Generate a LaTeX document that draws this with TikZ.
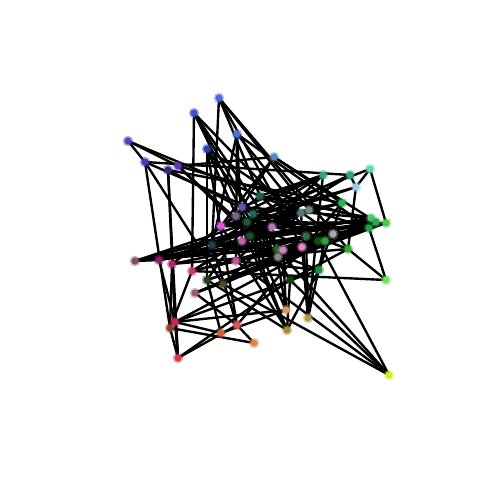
\documentclass[tikz,border=0pt]{standalone}
\usepackage{xcolor}
\usepackage{tikz}
\pgfdeclarelayer{bg}
\pgfsetlayers{bg,main}

\begin{document}
\begin{tikzpicture}[x=0.02cm,y=-0.02cm,
  dot/.style={circle,inner sep=0pt,minimum size=4pt,line width=1.8pt,draw opacity=0.45},
  edge/.style={black,line width=1.35pt}]
\useasboundingbox (0,0) rectangle (500,500);
% vertices: name/x/y/colour
\foreach \n/\x/\y/\c in {1/219/98/4A6AD8,2/194/113/3A50C8,3/237/134/5070D8,4/207/149/2840A8,
  5/128/141/4A48C0,6/145/162/5530B0,7/178/166/6038B8,8/168/170/302A80,9/274/157/5888C0,
  10/323/175/30A878,11/350/175/30A088,12/370/169/60D8A8,13/356/187/98CCE8,14/342/203/30B058,
  15/260/196/1E6048,16/301/213/507878,17/309/210/708888,18/242/207/6858A8,19/236/216/786888,
  20/253/214/206850,21/247/222/1E5838,22/221/226/D858D8,23/272/227/B878B8,24/242/241/B868A8,
  25/250/236/1E5030,26/306/236/2E7040,27/277/249/306030,28/283/250/C888B8,29/278/257/888888,
  30/302/247/E888C8,31/236/261/C05898,32/371/218/48C868,33/376/222/30A850,34/386/223/48C848,
  35/369/228/20A040,36/318/241/105010,37/325/241/30A040,38/333/234/A8A8A8,39/348/249/30A830,
  40/319/270/209030,41/290/280/104010,42/386/280/78E058,43/286/310/D89868,44/308/318/B89850,
  45/287/330/A88838,46/389/375/C8F028,47/135/261/884868,48/159/260/882068,49/172/264/A82868,
  50/192/271/C83888,51/207/280/204020,52/223/284/484828,53/212/245/204048,54/195/293/985878,
  55/175/322/C82858,56/170/328/904030,57/178/358/D83848,58/221/333/C86838,59/237/325/D85858,
  60/254/343/D88848}
{
  \definecolor{nc}{HTML}{\c}
  \node[dot,fill=nc,draw=nc] (v\n) at (\x,\y) {};
}
% edges
\begin{pgfonlayer}{bg}
\foreach \a/\b in {1/53,1/15,1/17,1/30,1/39,2/50,2/21,2/23,2/36,2/41,
  3/53,3/24,3/31,3/16,3/35,4/59,4/51,4/27,4/38,4/45,5/6,5/7,5/16,
  6/56,6/52,6/11,6/37,7/9,7/33,7/29,7/25,8/57,8/55,8/14,8/20,
  9/22,9/14,9/19,9/33,10/18,10/19,10/53,10/44,10/31,11/21,11/24,11/13,11/50,
  12/13,12/34,12/20,13/39,13/22,13/47,14/40,14/47,14/21,15/10,15/26,15/32,15/49,
  16/22,16/48,16/44,17/24,17/53,17/35,18/32,18/38,18/41,19/30,19/37,19/49,
  20/28,20/39,20/51,21/34,21/43,22/33,22/35,22/45,23/43,23/47,23/35,
  24/33,24/48,24/40,25/32,25/45,25/50,26/48,26/31,26/44,27/46,27/47,27/34,
  28/43,28/53,28/36,29/52,29/54,30/50,30/34,30/44,31/40,31/36,32/47,32/53,
  33/54,33/49,46/31,35/47,35/54,35/42,36/46,36/52,37/44,37/51,38/50,38/48,
  39/42,39/41,39/49,40/45,40/55,41/46,41/45,41/57,42/50,43/58,43/55,45/51,
  46/52,47/48,48/55,49/57,49/56,50/56,51/58,51/36,52/16,53/59,53/37,
  54/59,54/34,55/57,55/58,55/32,56/57,56/60,57/59,59/60,59/14}
  \draw[edge] (v\a.center) -- (v\b.center);
\end{pgfonlayer}
\end{tikzpicture}
\end{document}
